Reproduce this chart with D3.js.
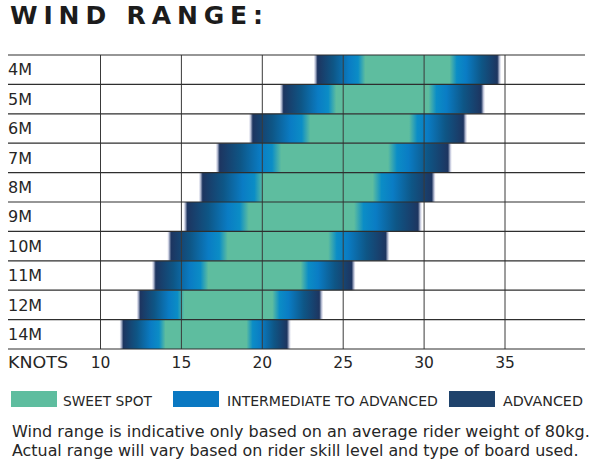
<!DOCTYPE html>
<html>
<head>
<meta charset="utf-8">
<script src="https://cdn.jsdelivr.net/npm/d3@7"></script>
<style>
  html, body { margin: 0; padding: 0; background: #fff; }
  svg { display: block; }
  text { font-family: "DejaVu Sans", "Open Sans", sans-serif; fill: #262626; }
</style>
</head>
<body>
<svg id="chart" width="600" height="463"></svg>
<script>
// kite sizes, top to bottom
const sizes = ["4M", "5M", "6M", "7M", "8M", "9M", "10M", "11M", "12M", "14M"];
// outer limits of each range (knots)
const rangeLow  = [23.2, 21.1, 19.2, 17.15, 16.1, 15.15, 14.15, 13.2, 12.25, 11.2];
const rangeHigh = [34.8, 33.8, 32.7, 31.75, 30.75, 29.9, 27.9, 25.8, 23.8, 21.8];
// sweet spot limits (knots)
const sweetLow  = [26.4, 24.6, 23.0, 21.2, 20.1, 19.2, 17.9, 16.7, 15.2, 14.05];
const sweetHigh = [31.6, 30.3, 29.1, 27.8, 26.85, 25.7, 24.1, 22.4, 20.65, 19.05];

const knotTicks = [10, 15, 20, 25, 30, 35];

const legendItems = ["SWEET SPOT", "INTERMEDIATE TO ADVANCED", "ADVANCED"];
const legendColors = ["#5ebd9f", "#0a78c2", "#1f436c"];

const notes = [
  "Wind range is indicative only based on an average rider weight of 80kg.",
  "Actual range will vary based on rider skill level and type of board used."
];

const svg = d3.select("#chart");

const x = d3.scaleLinear().domain([10, 35]).range([100, 504.5]);
const y = d3.scaleBand().domain(sizes).range([55, 349]);

const green = "#5ebd9f";

// shrink/grow a text's font so its natural width hits the target
function fitWidth(sel, base, widthOf) {
  sel.attr("font-size", base).each(function(d, i) {
    const w = this.getComputedTextLength();
    const target = widthOf(d, i);
    if (w > 0) d3.select(this).attr("font-size", base * target / w);
  });
}

// title
svg.append("text")
  .attr("x", 10)
  .attr("y", 24)
  .attr("font-size", 25)
  .attr("font-weight", 700)
  .attr("textLength", 253)
  .attr("lengthAdjust", "spacing")
  .style("fill", "#1c1c1c")
  .text("WIND RANGE:");

// one horizontal gradient per bar: fade, navy, blue, green ... green, blue, navy, fade
const defs = svg.append("defs");
const rows = sizes.map((s, i) => ({
  size: s, lo: rangeLow[i], sLo: sweetLow[i], sHi: sweetHigh[i], hi: rangeHigh[i], i: i
}));

rows.forEach(d => {
  const x0 = x(d.lo), x1 = x(d.hi);
  const w = x1 - x0;
  const f = px => (px - x0) / w;
  const left = x(d.sLo) - x0;
  const right = x1 - x(d.sHi);
  const stops = [
    [0, "#ffffff"],
    [f(x0 + 1.5), "#c9cde0"],
    [f(x0 + 4), "#1d3560"],
    [f(x0 + left * 0.38), "#0e5686"],
    [f(x0 + left * 0.68), "#0a7cc4"],
    [f(x0 + left * 0.86), "#0b8dc6"],
    [f(x0 + left), green],
    [f(x1 - right), green],
    [f(x1 - right * 0.86), "#0b8dc6"],
    [f(x1 - right * 0.68), "#0a7cc4"],
    [f(x1 - right * 0.38), "#0e5686"],
    [f(x1 - 4), "#1d3560"],
    [f(x1 - 1.5), "#c9cde0"],
    [1, "#ffffff"]
  ];
  const g = defs.append("linearGradient")
    .attr("id", "grad" + d.i)
    .attr("gradientUnits", "userSpaceOnUse")
    .attr("x1", x0).attr("x2", x1)
    .attr("y1", 0).attr("y2", 0);
  g.selectAll("stop").data(stops).join("stop")
    .attr("offset", s => s[0])
    .attr("stop-color", s => s[1]);
});

svg.append("g").selectAll("rect").data(rows).join("rect")
  .attr("x", d => x(d.lo))
  .attr("y", d => y(d.size))
  .attr("width", d => x(d.hi) - x(d.lo))
  .attr("height", y.bandwidth())
  .attr("fill", d => `url(#grad${d.i})`);

// vertical grid + tick labels
const axis = d3.axisBottom(x)
  .tickValues(knotTicks)
  .tickSize(-(349 - 55))
  .tickPadding(8)
  .tickFormat(d3.format("d"));

const axisG = svg.append("g")
  .attr("transform", "translate(0,349)")
  .call(axis);
axisG.select(".domain").remove();
axisG.selectAll(".tick line")
  .attr("stroke", "#3a3a3a")
  .attr("stroke-width", 1);
axisG.selectAll(".tick text")
  .attr("font-size", 15.5)
  .attr("font-family", "\"DejaVu Sans\", sans-serif")
  .attr("fill", "#262626")
  .attr("dy", null)
  .attr("y", 19);

// horizontal row lines
const edges = sizes.map(s => y(s)).concat([y.range()[1]]);
svg.append("g").selectAll("line").data(edges).join("line")
  .attr("x1", 8)
  .attr("x2", 585)
  .attr("y1", d => d)
  .attr("y2", d => d)
  .attr("stroke", "#2e2e2e")
  .attr("stroke-width", 1.2);

// row labels
svg.append("g").selectAll("text").data(sizes).join("text")
  .attr("x", 8)
  .attr("y", d => y(d) + y.bandwidth() / 2 + 5.6)
  .attr("font-size", 16)
  .text(d => d);

svg.append("text")
  .attr("x", 8)
  .attr("y", 368)
  .attr("font-size", 15.5)
  .attr("textLength", 60)
  .attr("lengthAdjust", "spacingAndGlyphs")
  .text("KNOTS");

// legend
const legendX = [11, 173, 449];
const legendTextX = [63, 227, 503];
const legendTextW = [89, 211, 80];
const legend = svg.append("g").selectAll("g").data(legendItems).join("g");
legend.append("rect")
  .attr("x", (d, i) => legendX[i])
  .attr("y", 391)
  .attr("width", 46)
  .attr("height", 16)
  .attr("fill", (d, i) => legendColors[i]);
legend.append("text")
  .attr("x", (d, i) => legendTextX[i])
  .attr("y", 406)
  .text(d => d)
  .call(fitWidth, 14.5, (d, i) => legendTextW[i]);

// footnote
svg.append("g").selectAll("text").data(notes).join("text")
  .attr("x", 12)
  .attr("y", (d, i) => 436.5 + i * 19.5)
  .text(d => d)
  .call(fitWidth, 16.5, (d, i) => i === 0 ? 578 : 567);
</script>
</body>
</html>
